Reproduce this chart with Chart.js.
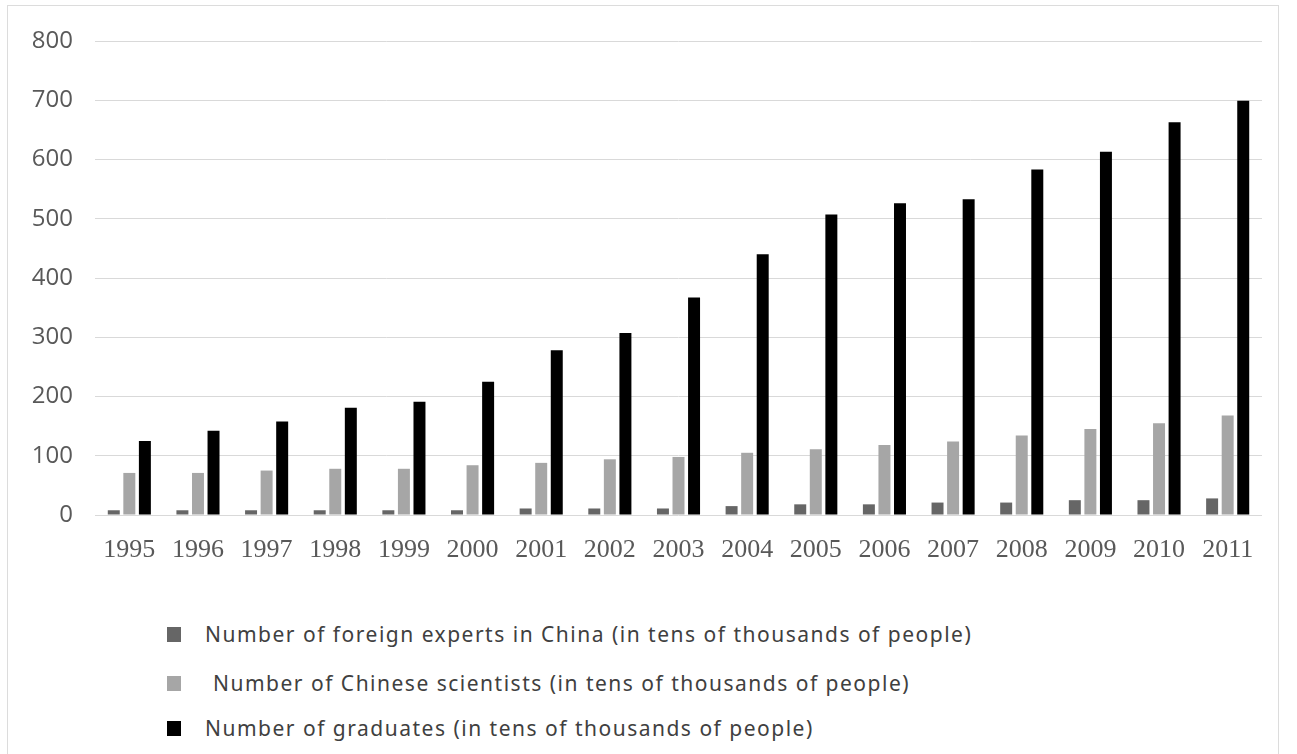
<!DOCTYPE html>
<html>
<head>
<meta charset="utf-8">
<script src="https://cdn.jsdelivr.net/npm/chart.js@4"></script>
<style>
  html, body { margin: 0; padding: 0; background: #fff; }
  #wrap { position: relative; width: 1297px; height: 754px; overflow: hidden; }
  #frame { position: absolute; left: 7px; top: 5px; width: 1272px; height: 800px; border: 1px solid #dcdcdc; box-sizing: border-box; }
  #chart { position: absolute; left: 0; top: 0; }
  #legend { position: absolute; left: 167px; top: 0; font-family: "Noto Sans", sans-serif; font-size: 21px; letter-spacing: 1.5px; color: #404040; }
  .item { position: absolute; white-space: nowrap; display: flex; align-items: center; }
  .box { display: inline-block; width: 14px; height: 15px; }
</style>
</head>
<body>
<div id="wrap">
  <div id="frame"></div>
  <canvas id="chart" width="1297" height="580"></canvas>
  <div id="legend"></div>
</div>
<script>
const years = ['1995','1996','1997','1998','1999','2000','2001','2002','2003','2004','2005','2006','2007','2008','2009','2010','2011'];
const foreignExperts = [8, 8, 8, 8, 8, 8, 11, 11, 11, 15, 18, 18, 21, 21, 25, 25, 28];
const chineseScientists = [71, 71, 75, 78, 78, 84, 88, 94, 98, 105, 111, 118, 124, 134, 145, 155, 168];
const graduates = [125, 142, 158, 181, 191, 225, 278, 307, 367, 440, 507, 526, 533, 583, 613, 663, 699];
const seriesNames = [
  'Number of foreign experts in China (in tens of thousands of people)',
  'Number of Chinese scientists (in tens of thousands of people)',
  'Number of graduates (in tens of thousands of people)'
];
const seriesColors = ['#666666', '#a6a6a6', '#000000'];

const chart = new Chart(document.getElementById('chart'), {
  type: 'bar',
  data: {
    labels: years,
    datasets: [
      { label: seriesNames[0], data: foreignExperts, backgroundColor: seriesColors[0] },
      { label: seriesNames[1], data: chineseScientists, backgroundColor: seriesColors[1] },
      { label: seriesNames[2], data: graduates, backgroundColor: seriesColors[2] }
    ]
  },
  options: {
    responsive: false,
    animation: false,
    devicePixelRatio: 1,
    categoryPercentage: 0.68,
    barPercentage: 0.77,
    layout: { padding: { top: 41, right: 35, left: 0, bottom: 0 } },
    plugins: { legend: { display: false }, tooltip: { enabled: false } },
    scales: {
      x: {
        grid: { display: false },
        border: { display: false },
        ticks: { color: '#595959', font: { family: '"Liberation Serif", serif', size: 26 }, padding: 12, maxRotation: 0 },
        afterFit: (s) => { s.height = 65; }
      },
      y: {
        min: 0, max: 800,
        grid: { color: '#d9d9d9', lineWidth: 1, drawTicks: false },
        border: { display: false },
        ticks: { stepSize: 100, color: '#595959', font: { family: '"Open Sans", sans-serif', size: 24 }, padding: 22 },
        afterFit: (s) => { s.width = 95; }
      }
    }
  }
});

// legend entries stacked vertically below the plot
const legendRows = [
  { y: 634, textX: 38 },
  { y: 683, textX: 46 },
  { y: 728, textX: 38 }
];
const legend = document.getElementById('legend');
chart.data.datasets.forEach((ds, i) => {
  const row = document.createElement('div');
  row.className = 'item';
  row.style.top = (legendRows[i].y - 14) + 'px';
  row.style.height = '28px';
  const box = document.createElement('span');
  box.className = 'box';
  box.style.background = ds.backgroundColor;
  const txt = document.createElement('span');
  txt.textContent = ds.label;
  txt.style.marginLeft = (legendRows[i].textX - 14) + 'px';
  row.appendChild(box);
  row.appendChild(txt);
  legend.appendChild(row);
});
</script>
</body>
</html>
